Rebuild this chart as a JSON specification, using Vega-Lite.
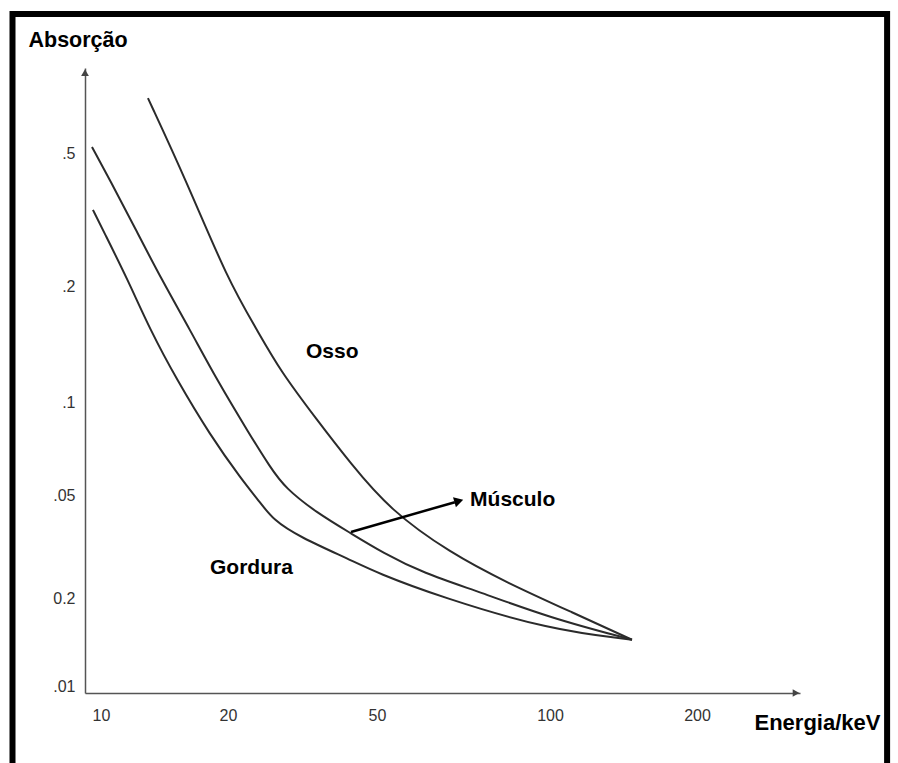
{
  "$schema": "https://vega.github.io/schema/vega-lite/v6.json",
  "width": 715,
  "height": 625,
  "autosize": {"type": "none"},
  "padding": {"left": 85, "top": 68, "right": 98, "bottom": 70},
  "background": "white",
  "config": {"view": {"stroke": null}, "font": "Liberation Sans"},
  "datasets": {
    "curves": [
      {"material": "Osso", "energy": 12.92, "absorption": 0.730},
      {"material": "Osso", "energy": 15.9, "absorption": 0.415},
      {"material": "Osso", "energy": 20.0, "absorption": 0.208},
      {"material": "Osso", "energy": 23.9, "absorption": 0.154},
      {"material": "Osso", "energy": 27.5, "absorption": 0.121},
      {"material": "Osso", "energy": 34.6, "absorption": 0.0874},
      {"material": "Osso", "energy": 42.4, "absorption": 0.0635},
      {"material": "Osso", "energy": 52.7, "absorption": 0.0437},
      {"material": "Osso", "energy": 67.0, "absorption": 0.0299},
      {"material": "Osso", "energy": 84.2, "absorption": 0.0229},
      {"material": "Osso", "energy": 111.5, "absorption": 0.0178},
      {"material": "Osso", "energy": 147.2, "absorption": 0.0144},
      {"material": "Músculo", "energy": 9.52, "absorption": 0.521},
      {"material": "Músculo", "energy": 10.5, "absorption": 0.415},
      {"material": "Músculo", "energy": 12.04, "absorption": 0.298},
      {"material": "Músculo", "energy": 13.95, "absorption": 0.208},
      {"material": "Músculo", "energy": 16.25, "absorption": 0.154},
      {"material": "Músculo", "energy": 18.83, "absorption": 0.114},
      {"material": "Músculo", "energy": 22.9, "absorption": 0.0782},
      {"material": "Músculo", "energy": 25.9, "absorption": 0.0616},
      {"material": "Músculo", "energy": 28.4, "absorption": 0.0527},
      {"material": "Músculo", "energy": 34.6, "absorption": 0.0426},
      {"material": "Músculo", "energy": 42.4, "absorption": 0.0357},
      {"material": "Músculo", "energy": 51.2, "absorption": 0.0299},
      {"material": "Músculo", "energy": 60.1, "absorption": 0.0250},
      {"material": "Músculo", "energy": 75.5, "absorption": 0.0211},
      {"material": "Músculo", "energy": 100, "absorption": 0.0171},
      {"material": "Músculo", "energy": 147.2, "absorption": 0.0144},
      {"material": "Gordura", "energy": 9.57, "absorption": 0.338},
      {"material": "Gordura", "energy": 10.11, "absorption": 0.294},
      {"material": "Gordura", "energy": 11.59, "absorption": 0.208},
      {"material": "Gordura", "energy": 13.07, "absorption": 0.154},
      {"material": "Gordura", "energy": 15.14, "absorption": 0.114},
      {"material": "Gordura", "energy": 18.13, "absorption": 0.0782},
      {"material": "Gordura", "energy": 21.8, "absorption": 0.0559},
      {"material": "Gordura", "energy": 24.1, "absorption": 0.0478},
      {"material": "Gordura", "energy": 26.4, "absorption": 0.0400},
      {"material": "Gordura", "energy": 31.1, "absorption": 0.0344},
      {"material": "Gordura", "energy": 42.4, "absorption": 0.0281},
      {"material": "Gordura", "energy": 50, "absorption": 0.0250},
      {"material": "Gordura", "energy": 64.4, "absorption": 0.0202},
      {"material": "Gordura", "energy": 100, "absorption": 0.01555},
      {"material": "Gordura", "energy": 147.2, "absorption": 0.0144}
    ],
    "labels": [
      {"label": "Osso", "energy": 32.3, "absorption": 0.135},
      {"label": "Músculo", "energy": 72.6, "absorption": 0.0478},
      {"label": "Gordura", "energy": 18.13, "absorption": 0.0261}
    ],
    "pointer": [
      {"energy": 42.6, "absorption": 0.0360, "energy2": 68.3, "absorption2": 0.0469}
    ],
    "pointerHead": [
      {"energy": 69.4, "absorption": 0.0474}
    ],
    "frame": [
      {"left": 6.17, "right": 490, "top": 1.303, "bottom": 0.004}
    ],
    "axisEnds": [
      {"shape": "triangle-up", "energy": 9.164, "absorption": 0.87},
      {"shape": "triangle-right", "energy": 319, "absorption": 0.00946}
    ]
  },
  "layer": [
    {
      "data": {"name": "frame"},
      "mark": {"type": "rect", "filled": false, "stroke": "black", "strokeWidth": 6},
      "encoding": {
        "x": {"field": "left", "type": "quantitative", "scale": {"type": "log", "domain": [9.164, 10, 20, 50, 100, 200, 325], "range": [0, 16, 143, 292, 465, 612, 715], "nice": false, "zero": false}},
        "x2": {"field": "right"},
        "y": {"field": "top", "type": "quantitative", "scale": {"type": "log", "domain": [0.00946, 0.01, 0.02, 0.05, 0.1, 0.2, 0.5, 0.898], "range": [625, 618, 530, 427, 334, 218, 85, 0], "nice": false, "zero": false}},
        "y2": {"field": "bottom"}
      }
    },
    {
      "data": {"name": "curves"},
      "mark": {"type": "line", "interpolate": "basis", "color": "#2b2b2b", "strokeWidth": 2},
      "encoding": {
        "x": {
          "field": "energy", "type": "quantitative",
          "axis": {
            "values": [10, 20, 50, 100, 200],
            "title": "Energia/keV",
            "titleX": 669, "titleY": 29, "titleAlign": "left", "titleBaseline": "middle", "titleAngle": 0,
            "titleFont": "Liberation Sans", "titleFontSize": 22, "titleFontWeight": "bold", "titleColor": "black",
            "labelFont": "Liberation Sans", "labelFontSize": 16, "labelColor": "#333", "labelPadding": 14,
            "ticks": false, "grid": false, "domainColor": "#555", "domainWidth": 1.5,
            "labelExpr": "format(datum.value, 'd')", "labelFlush": false, "labelOverlap": false
          }
        },
        "y": {
          "field": "absorption", "type": "quantitative",
          "axis": {
            "values": [0.01, 0.02, 0.05, 0.1, 0.2, 0.5],
            "title": "Absorção",
            "titleX": -57, "titleY": -28, "titleAlign": "left", "titleBaseline": "middle", "titleAngle": 0,
            "titleFont": "Liberation Sans", "titleFontSize": 21.5, "titleFontWeight": "bold", "titleColor": "black",
            "labelFont": "Liberation Sans", "labelFontSize": 16, "labelColor": "#333", "labelPadding": 10,
            "ticks": false, "grid": false, "domainColor": "#555", "domainWidth": 1.5,
            "labelExpr": "datum.value == 0.5 ? '.5' : datum.value == 0.2 ? '.2' : datum.value == 0.1 ? '.1' : datum.value == 0.05 ? '.05' : datum.value == 0.02 ? '0.2' : '.01'",
            "labelFlush": false, "labelOverlap": false
          }
        },
        "detail": {"field": "material"}
      }
    },
    {
      "data": {"name": "axisEnds"},
      "mark": {"type": "point", "filled": true, "color": "#444", "size": 60, "opacity": 1},
      "encoding": {
        "x": {"field": "energy", "type": "quantitative"},
        "y": {"field": "absorption", "type": "quantitative"},
        "shape": {"field": "shape", "type": "nominal", "scale": null}
      }
    },
    {
      "data": {"name": "pointer"},
      "mark": {"type": "rule", "color": "black", "strokeWidth": 2.5},
      "encoding": {
        "x": {"field": "energy", "type": "quantitative"},
        "y": {"field": "absorption", "type": "quantitative"},
        "x2": {"field": "energy2"},
        "y2": {"field": "absorption2"}
      }
    },
    {
      "data": {"name": "pointerHead"},
      "mark": {"type": "point", "shape": "triangle-right", "filled": true, "color": "black", "size": 110, "opacity": 1, "angle": 344},
      "encoding": {
        "x": {"field": "energy", "type": "quantitative"},
        "y": {"field": "absorption", "type": "quantitative"}
      }
    },
    {
      "data": {"name": "labels"},
      "mark": {"type": "text", "align": "left", "baseline": "middle", "font": "Liberation Sans", "fontWeight": "bold", "fontSize": 21, "color": "black"},
      "encoding": {
        "x": {"field": "energy", "type": "quantitative"},
        "y": {"field": "absorption", "type": "quantitative"},
        "text": {"field": "label"}
      }
    }
  ]
}
